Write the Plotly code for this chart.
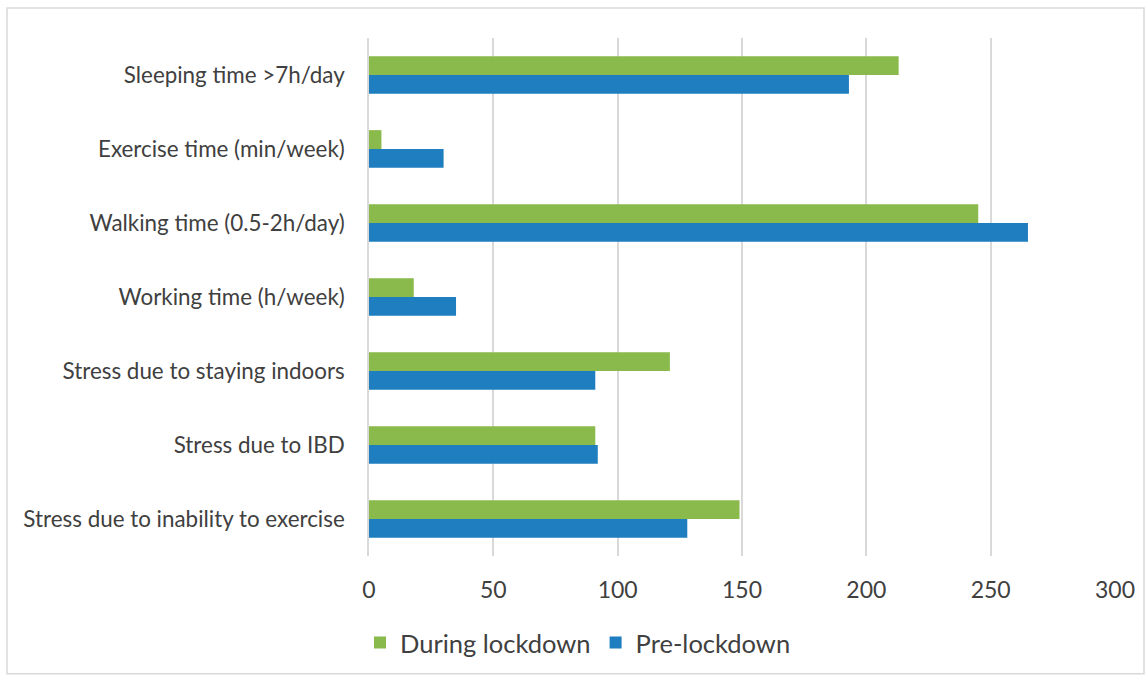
import plotly.graph_objects as go

categories = [
    "Sleeping time >7h/day",
    "Exercise time (min/week)",
    "Walking time (0.5-2h/day)",
    "Working time (h/week)",
    "Stress due to staying indoors",
    "Stress due to IBD",
    "Stress due to inability to exercise",
]
during_lockdown = [213, 5, 245, 18, 121, 91, 149]
pre_lockdown = [193, 30, 265, 35, 91, 92, 128]
x_ticks = [0, 50, 100, 150, 200, 250, 300]

FONT = "Lato"
TXT = "#404040"

fig = go.Figure()
fig.add_trace(go.Bar(y=categories, x=during_lockdown, orientation="h",
                     name="During lockdown", marker=dict(color="#8ab94c", line=dict(width=0))))
fig.add_trace(go.Bar(y=categories, x=pre_lockdown, orientation="h",
                     name="Pre-lockdown", marker=dict(color="#1f7ec0", line=dict(width=0))))

W, H = 1146, 677
L, R, T, B = 369, 31, 38, 120
pw, ph = W - L - R, H - T - B

fig.update_layout(
    width=W, height=H,
    margin=dict(l=L, r=R, t=T, b=B),
    paper_bgcolor="white", plot_bgcolor="white",
    barmode="group", bargap=0.49, bargroupgap=0,
    font=dict(family=FONT, size=22, color=TXT),
    showlegend=True,
    legend=dict(orientation="h", x=(360 - L) / pw, xanchor="left",
                y=(H - B - 643) / ph, yanchor="middle",
                font=dict(family=FONT, size=25.5, color=TXT),
                itemwidth=30, traceorder="normal"),
    xaxis=dict(range=[0, 300], tickvals=x_ticks, showgrid=True, gridcolor="#d9d9d9",
               gridwidth=1.5, zeroline=False, showline=False,
               ticks="outside", ticklen=13, tickcolor="rgba(0,0,0,0)",
               tickfont=dict(family=FONT, size=23, color=TXT), fixedrange=True),
    yaxis=dict(autorange="reversed", showgrid=False, zeroline=False,
               showline=True, linecolor="#d9d9d9", linewidth=1.5,
               ticks="outside", ticklen=18, tickcolor="rgba(0,0,0,0)",
               tickfont=dict(family=FONT, size=22.4, color=TXT)),
    shapes=[dict(type="rect", xref="paper", yref="paper",
                 x0=(7 - L) / pw, x1=(1144 - L) / pw,
                 y0=(H - B - 675) / ph, y1=(H - B - 8) / ph,
                 line=dict(color="#d9d9d9", width=1.5), fillcolor="rgba(0,0,0,0)",
                 layer="below")],
)

fig.write_html("out.html")
